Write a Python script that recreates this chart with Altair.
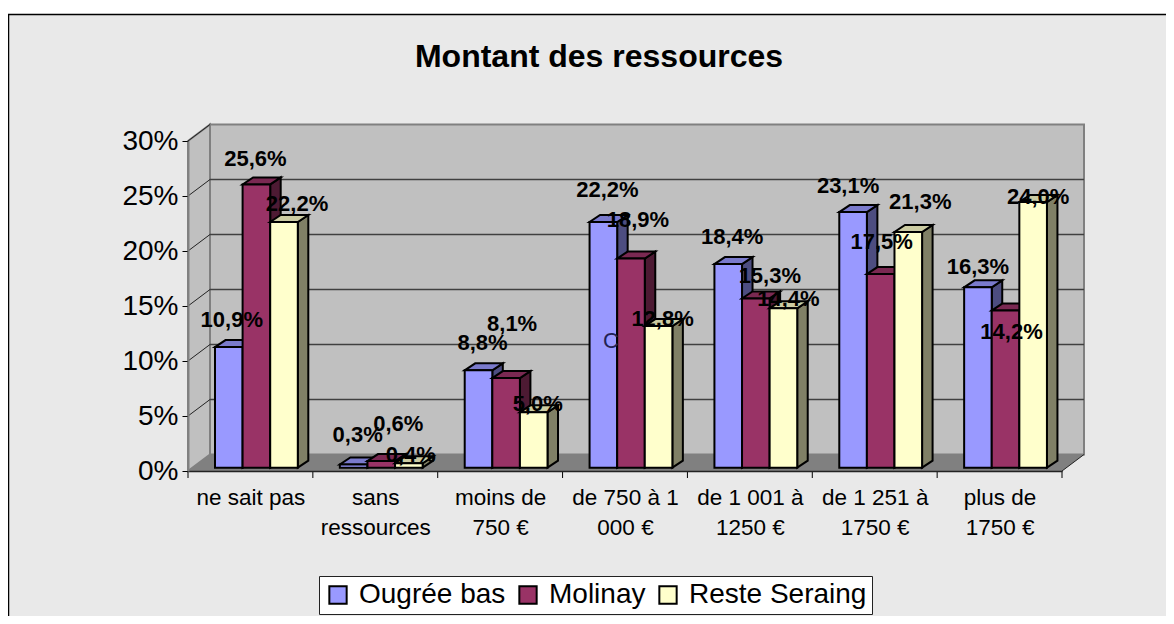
import altair as alt
import pandas as pd

categories = ["ne sait pas", "sans|ressources", "moins de|750 €", "de 750 à 1|000 €",
              "de 1 001 à|1250 €", "de 1 251 à|1750 €", "plus de|1750 €"]
series = ["Ougrée bas", "Molinay", "Reste Seraing"]
ougree = [10.9, 0.3, 8.8, 22.2, 18.4, 23.1, 16.3]
molinay = [25.6, 0.6, 8.1, 18.9, 15.3, 17.5, 14.2]
reste = [22.2, 0.4, 5.0, 12.8, 14.4, 21.3, 24.0]
values = [ougree, molinay, reste]
front_colors = ["#9999FF", "#993366", "#FFFFCC"]
top_colors = ["#7A7ACC", "#7A2952", "#CCCCA3"]
side_colors = ["#4D4D80", "#4D1A33", "#808066"]
label_dx = [[3, -1, 13], [4, 17, 2], [4, 6, 4], [4, 7, 4], [4, 14, 5], [-5, 1, 12], [0, 6, 5]]
label_dy = [[-27, -25, -18], [-29, -37, -8], [-27, -54, -8], [-32, -39, -7], [-27, -22, -9], [-26, -32, -30], [-20, 21, -5]]

PXX, PXY = 124.86, 11.0
WX, WY = 22 / PXX, 16.5 / PXY       # wall depth
BX, BY = 10.5 / PXX, 7 / PXY        # bar depth
START, BW = 27 / PXX, 27.6 / PXX    # first bar inset and bar width
BASE, K = 0.3, 1.006

walls = pd.DataFrame([
    dict(f="left", x=0, y=0, y2=30, c="#C0C0C0"),
    dict(f="left", x=WX, y=WY, y2=30 + WY, c="#C0C0C0"),
    dict(f="back", x=WX, y=WY, y2=30 + WY, c="#C0C0C0"),
    dict(f="back", x=7 + WX, y=WY, y2=30 + WY, c="#C0C0C0"),
])
floor = pd.DataFrame([
    dict(f="floor", x=0, y=0, y2=0, c="#808080"),
    dict(f="floor", x=WX, y=0, y2=WY, c="#808080"),
    dict(f="floor", x=7, y=0, y2=WY, c="#808080"),
    dict(f="floor", x=7 + WX, y=WY, y2=WY, c="#808080"),
])

rows, labels = [], []
for i in range(len(categories)):
    for s in range(3):
        v = values[s][i]
        x0 = i + START + s * BW
        x1 = x0 + BW
        top = BASE + K * v
        fid = f"{i}-{s}"
        rows += [dict(f=fid + "s", x=x1, y=BASE, y2=top, c=side_colors[s]),
                 dict(f=fid + "s", x=x1 + BX, y=BASE + BY, y2=top + BY, c=side_colors[s])]
        rows += [dict(f=fid + "t", x=x0, y=top, y2=top, c=top_colors[s]),
                 dict(f=fid + "t", x=x0 + BX, y=top, y2=top + BY, c=top_colors[s]),
                 dict(f=fid + "t", x=x1, y=top, y2=top + BY, c=top_colors[s]),
                 dict(f=fid + "t", x=x1 + BX, y=top + BY, y2=top + BY, c=top_colors[s])]
        rows += [dict(f=fid + "f", x=x0, y=BASE, y2=top, c=front_colors[s]),
                 dict(f=fid + "f", x=x1, y=BASE, y2=top, c=front_colors[s])]
        labels.append(dict(x=(x0 + x1) / 2 + label_dx[i][s] / PXX,
                           y=top - label_dy[i][s] / PXY,
                           t=f"{v:.1f}%".replace(".", ",")))
bars = pd.DataFrame(rows)
lab = pd.DataFrame(labels)

xs = alt.Scale(domain=[0, 7], nice=False, zero=False)
ys = alt.Scale(domain=[0, 30], nice=False, zero=False)
FONT = "Liberation Sans"

x_axis = alt.Axis(
    values=[i + 0.5 for i in range(7)], tickSize=0, domainColor="#222222", domainWidth=1.5,
    labelFont=FONT, labelFontSize=22.5, labelColor="#000000", labelPadding=15,
    labelLineHeight=30, labelOverlap=False, labelAngle=0, zindex=1, grid=False,
    labelExpr="split(" + str(categories) + "[floor(datum.value)], '|')")
y_axis = alt.Axis(
    values=list(range(0, 31, 5)), tickSize=6, tickColor="#000000", domainColor="#808080",
    domainWidth=2, labelFont=FONT, labelFontSize=28, labelColor="#000000", labelPadding=4,
    zindex=1, grid=False, labelExpr="datum.value + '%'")


def X(f="x"):
    return alt.X(f"{f}:Q", scale=xs, axis=x_axis, title=None)


def Y(f="y"):
    return alt.Y(f"{f}:Q", scale=ys, axis=y_axis, title=None)


bg = alt.Chart(pd.DataFrame([dict(x=-179.5 / PXX, x2=9, y=(471 - 14.5) / PXY, y2=-20)])).mark_rect(
    fill="#E9E9E9", stroke="#000000", strokeWidth=1.5
).encode(x=X(), x2="x2:Q", y=Y(), y2="y2:Q")

legend_src = pd.DataFrame(dict(series=series, x=[0.5] * 3, y=[10] * 3))
legend_layer = alt.Chart(legend_src).mark_square(size=20, opacity=1).encode(
    x=X(), y=Y(),
    color=alt.Color("series:N", scale=alt.Scale(domain=series, range=front_colors), legend=alt.Legend(
        orient="none", legendX=131, legendY=435, direction="horizontal", columns=3, title=None,
        fillColor="#FFFFFF", strokeColor="#222222", padding=5, symbolType="square",
        symbolSize=300, symbolStrokeColor="#000000", symbolStrokeWidth=2, symbolOpacity=1,
        labelFont=FONT, labelFontSize=28, labelColor="#000000", columnPadding=8, labelOffset=7,
        labelLimit=300)),
)

wall_layer = alt.Chart(walls).mark_area(stroke="#808080", strokeWidth=2).encode(
    x=X(), y=Y(), y2="y2:Q", detail="f:N", fill=alt.Fill("c:N", scale=None))
floor_layer = alt.Chart(floor).mark_area().encode(
    x=X(), y=Y(), y2="y2:Q", detail="f:N", fill=alt.Fill("c:N", scale=None))

grid_vals = list(range(5, 30, 5))
grid_df = pd.DataFrame(dict(x=[WX] * len(grid_vals), x2=[7 + WX] * len(grid_vals),
                            y=[g + WY for g in grid_vals]))
grid_layer = alt.Chart(grid_df).mark_rule(color="#404040", strokeWidth=1.5).encode(x=X(), x2="x2:Q", y=Y())

slant_rows = []
for g in grid_vals + [30]:
    slant_rows += [dict(g=g, x=0, y=g), dict(g=g, x=WX, y=g + WY)]
slant_rows += [dict(g=-1, x=7, y=0), dict(g=-1, x=7 + WX, y=WY)]
slant_layer = alt.Chart(pd.DataFrame(slant_rows)).mark_line(color="#222222", strokeWidth=1).encode(
    x=X(), y=Y(), detail="g:N")

tick_df = pd.DataFrame(dict(x=list(range(8)), y=[0] * 8, y2=[-7 / PXY] * 8))
tick_layer = alt.Chart(tick_df).mark_rule(color="#000000").encode(x=X(), y=Y(), y2="y2:Q")

bar_layer = alt.Chart(bars).mark_area(stroke="#000000", strokeWidth=2, strokeJoin="miter").encode(
    x=X(), y=Y(), y2="y2:Q", detail="f:N", fill=alt.Fill("c:N", scale=None))

label_layer = alt.Chart(lab).mark_text(font=FONT, fontSize=22, fontWeight="bold", color="#000000").encode(
    x=X(), y=Y(), text="t:N")

stray = alt.Chart(pd.DataFrame(dict(x=[(611 - 188) / PXX], y=[(471 - 341) / PXY], t=["C"]))).mark_text(
    font=FONT, fontSize=22, color="#222255").encode(x=X(), y=Y(), text="t:N")

chart = alt.layer(
    legend_layer, bg, wall_layer, floor_layer, grid_layer, slant_layer, tick_layer,
    bar_layer, stray, label_layer).properties(
    width=874, height=330,
    padding=dict(left=180, top=133, right=104, bottom=145),
    autosize="none",
    title=alt.TitleParams("Montant des ressources", font=FONT, fontSize=32, fontWeight="bold",
                          color="#000000", anchor="middle", dx=-26, offset=-60),
).configure_view(stroke=None)

chart.save("out.html", embed_options={"renderer": "svg", "actions": False})
